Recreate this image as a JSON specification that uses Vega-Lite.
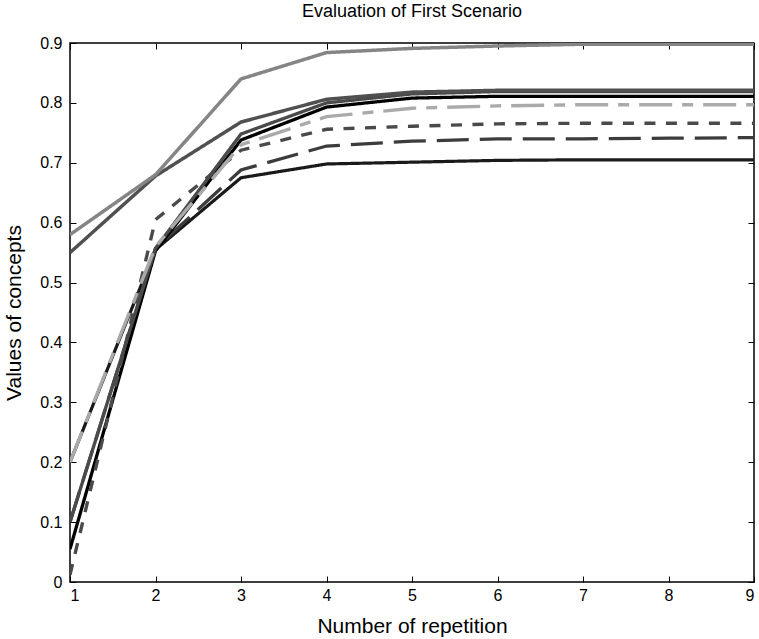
{
  "$schema": "https://vega.github.io/schema/vega-lite/v6.json",
  "autosize": "none",
  "width": 684,
  "height": 539,
  "padding": {"left": 70, "top": 43, "right": 5, "bottom": 57},
  "background": "white",
  "title": {"text": "Evaluation of First Scenario", "fontSize": 18, "fontWeight": "normal", "font": "Liberation Sans", "color": "black", "offset": 14},
  "config": {
    "view": {"stroke": "black", "strokeWidth": 1.5},
    "axis": {"labelFont": "Liberation Sans", "titleFont": "Liberation Sans", "labelColor": "black", "titleColor": "black", "labelFontSize": 16, "titleFontSize": 21, "titleFontWeight": "normal", "grid": false, "domain": false, "tickColor": "black", "tickWidth": 1}
  },
  "data": {"values": [
    {"s": "s1", "x": 1, "y": 0.2}, {"s": "s1", "x": 2, "y": 0.555}, {"s": "s1", "x": 3, "y": 0.675}, {"s": "s1", "x": 4, "y": 0.698}, {"s": "s1", "x": 5, "y": 0.701}, {"s": "s1", "x": 6, "y": 0.704}, {"s": "s1", "x": 7, "y": 0.705}, {"s": "s1", "x": 8, "y": 0.705}, {"s": "s1", "x": 9, "y": 0.705},
    {"s": "s2", "x": 1, "y": 0.1}, {"s": "s2", "x": 2, "y": 0.557}, {"s": "s2", "x": 3, "y": 0.688}, {"s": "s2", "x": 4, "y": 0.728}, {"s": "s2", "x": 5, "y": 0.736}, {"s": "s2", "x": 6, "y": 0.74}, {"s": "s2", "x": 7, "y": 0.74}, {"s": "s2", "x": 8, "y": 0.741}, {"s": "s2", "x": 9, "y": 0.742},
    {"s": "s3", "x": 1, "y": 0.055}, {"s": "s3", "x": 2, "y": 0.553}, {"s": "s3", "x": 3, "y": 0.738}, {"s": "s3", "x": 4, "y": 0.793}, {"s": "s3", "x": 5, "y": 0.808}, {"s": "s3", "x": 6, "y": 0.811}, {"s": "s3", "x": 7, "y": 0.811}, {"s": "s3", "x": 8, "y": 0.811}, {"s": "s3", "x": 9, "y": 0.811},
    {"s": "s4", "x": 1, "y": 0.1}, {"s": "s4", "x": 2, "y": 0.557}, {"s": "s4", "x": 3, "y": 0.748}, {"s": "s4", "x": 4, "y": 0.8}, {"s": "s4", "x": 5, "y": 0.815}, {"s": "s4", "x": 6, "y": 0.819}, {"s": "s4", "x": 7, "y": 0.819}, {"s": "s4", "x": 8, "y": 0.819}, {"s": "s4", "x": 9, "y": 0.819},
    {"s": "s5", "x": 1, "y": 0.012}, {"s": "s5", "x": 2, "y": 0.605}, {"s": "s5", "x": 3, "y": 0.721}, {"s": "s5", "x": 4, "y": 0.756}, {"s": "s5", "x": 5, "y": 0.761}, {"s": "s5", "x": 6, "y": 0.765}, {"s": "s5", "x": 7, "y": 0.766}, {"s": "s5", "x": 8, "y": 0.766}, {"s": "s5", "x": 9, "y": 0.766},
    {"s": "s6", "x": 1, "y": 0.2}, {"s": "s6", "x": 2, "y": 0.56}, {"s": "s6", "x": 3, "y": 0.73}, {"s": "s6", "x": 4, "y": 0.777}, {"s": "s6", "x": 5, "y": 0.791}, {"s": "s6", "x": 6, "y": 0.795}, {"s": "s6", "x": 7, "y": 0.797}, {"s": "s6", "x": 8, "y": 0.797}, {"s": "s6", "x": 9, "y": 0.797},
    {"s": "s7", "x": 1, "y": 0.55}, {"s": "s7", "x": 2, "y": 0.678}, {"s": "s7", "x": 3, "y": 0.768}, {"s": "s7", "x": 4, "y": 0.806}, {"s": "s7", "x": 5, "y": 0.818}, {"s": "s7", "x": 6, "y": 0.821}, {"s": "s7", "x": 7, "y": 0.821}, {"s": "s7", "x": 8, "y": 0.821}, {"s": "s7", "x": 9, "y": 0.821},
    {"s": "s8", "x": 1, "y": 0.58}, {"s": "s8", "x": 2, "y": 0.68}, {"s": "s8", "x": 3, "y": 0.84}, {"s": "s8", "x": 4, "y": 0.884}, {"s": "s8", "x": 5, "y": 0.891}, {"s": "s8", "x": 6, "y": 0.895}, {"s": "s8", "x": 7, "y": 0.898}, {"s": "s8", "x": 8, "y": 0.898}, {"s": "s8", "x": 9, "y": 0.898}
  ]},
  "layer": [
    {
      "mark": {"type": "line", "clip": true},
      "encoding": {
        "x": {"field": "x", "type": "quantitative", "scale": {"domain": [1, 9], "nice": false, "zero": false}, "axis": {"orient": "bottom", "title": "Number of repetition", "values": [1,2,3,4,5,6,7,8,9], "tickSize": -6, "labelPadding": 11, "titlePadding": 12}},
        "y": {"field": "y", "type": "quantitative", "scale": {"domain": [0, 0.9], "nice": false}, "axis": {"orient": "left", "title": "Values of concepts", "values": [0,0.1,0.2,0.3,0.4,0.5,0.6,0.7,0.8,0.9], "format": ".1~f", "tickSize": -6, "labelPadding": 14, "titlePadding": 15}},
        "color": {"field": "s", "type": "nominal", "legend": null, "scale": {"domain": ["s1","s2","s3","s4","s5","s6","s7","s8"], "range": ["#1a1a1a", "#3c3c3c", "#000000", "#4a4a4a", "#4a4a4a", "#aaaaaa", "#505050", "#858585"]}},
        "strokeDash": {"field": "s", "type": "nominal", "legend": null, "scale": {"domain": ["s1","s2","s3","s4","s5","s6","s7","s8"], "range": [[1,0], [32,11], [1,0], [1,0], [11,10.5], [33,10,11,10], [1,0], [1,0]]}},
        "strokeWidth": {"field": "s", "type": "nominal", "legend": null, "scale": {"domain": ["s1","s2","s3","s4","s5","s6","s7","s8"], "range": [3.2, 3.5, 1.6, 1.6, 3.6, 3.2, 1.2, 1.2]}}
      }
    },
    {
      "mark": {"type": "line", "strokeOpacity": 0},
      "encoding": {
        "x": {"field": "x", "type": "quantitative", "axis": {"orient": "top", "title": null, "labels": false, "values": [1,2,3,4,5,6,7,8,9], "tickSize": -6}},
        "y": {"field": "y", "type": "quantitative", "axis": {"orient": "right", "title": null, "labels": false, "values": [0,0.1,0.2,0.3,0.4,0.5,0.6,0.7,0.8,0.9], "tickSize": -6}},
        "detail": {"field": "s", "type": "nominal"}
      }
    }
  ],
  "resolve": {"axis": {"x": "independent", "y": "independent"}}
}
